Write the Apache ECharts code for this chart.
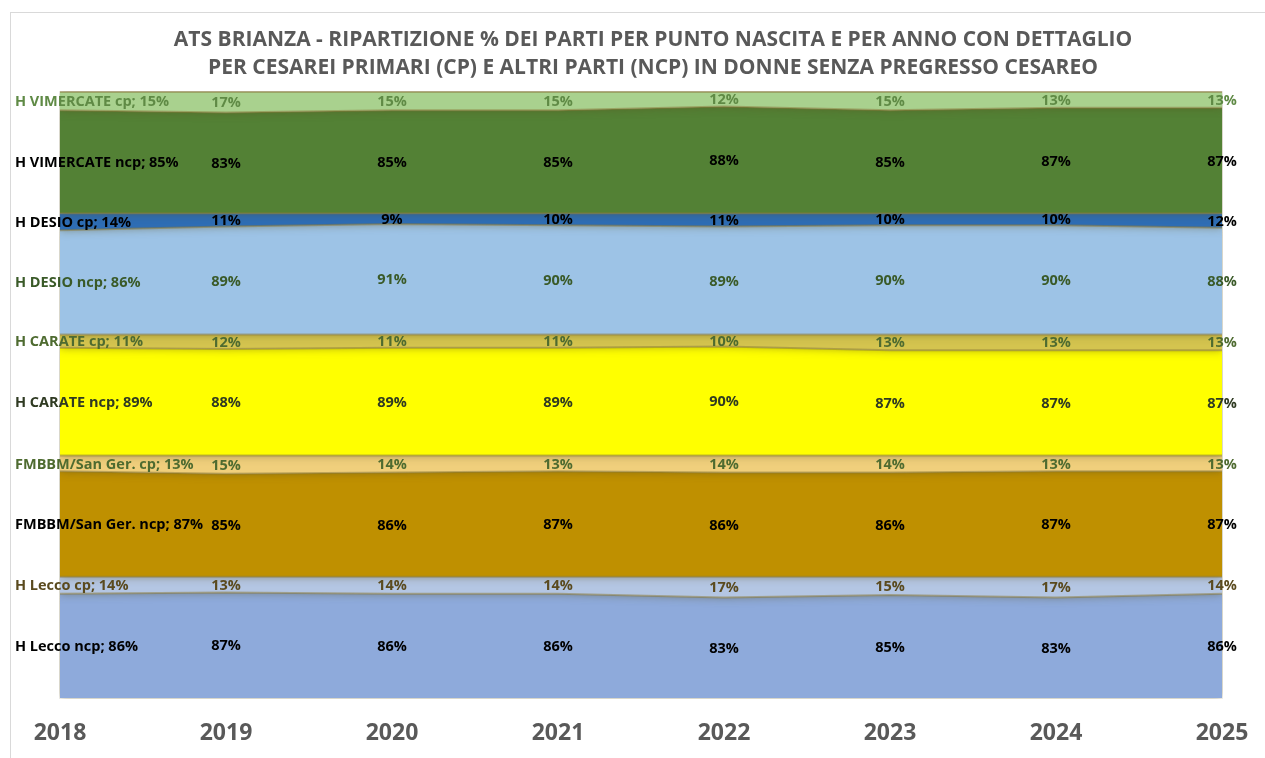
<!DOCTYPE html>
<html>
<head>
<meta charset="utf-8">
<script src="https://cdn.jsdelivr.net/npm/echarts@6/dist/echarts.min.js"></script>
<style>
html, body { margin: 0; padding: 0; background: #fff; }
#frame { position: absolute; left: 10px; top: 12px; width: 1265px; height: 760px; border-left: 1px solid #d9d9d9; border-top: 1px solid #d9d9d9; }
#chart { position: absolute; left: 0; top: 0; width: 1265px; height: 758px; }
</style>
</head>
<body>
<div id="frame"></div>
<div id="chart"></div>
<script>
// anni
var years = ['2018', '2019', '2020', '2021', '2022', '2023', '2024', '2025'];

// valori % per punto nascita (cp = cesarei primari, ncp = altri parti)
var leccoNcp = [86, 87, 86, 86, 83, 85, 83, 86];
var leccoCp = [14, 13, 14, 14, 17, 15, 17, 14];
var fmbbmNcp = [87, 85, 86, 87, 86, 86, 87, 87];
var fmbbmCp = [13, 15, 14, 13, 14, 14, 13, 13];
var carateNcp = [89, 88, 89, 89, 90, 87, 87, 87];
var carateCp = [11, 12, 11, 11, 10, 13, 13, 13];
var desioNcp = [86, 89, 91, 90, 89, 90, 90, 88];
var desioCp = [14, 11, 9, 10, 11, 10, 10, 12];
var vimercateNcp = [85, 83, 85, 85, 88, 85, 87, 87];
var vimercateCp = [15, 17, 15, 15, 12, 15, 13, 13];

// dal basso verso l'alto
var bands = [
    { name: 'H Lecco ncp', data: leccoNcp, color: '#8eaadb', label: '#000000' },
    { name: 'H Lecco cp', data: leccoCp, color: '#b4c6e3', label: '#5a4a1e' },
    { name: 'FMBBM/San Ger. ncp', data: fmbbmNcp, color: '#bf9000', label: '#000000' },
    { name: 'FMBBM/San Ger. cp', data: fmbbmCp, color: '#f0cf7c', label: '#4e6b30' },
    { name: 'H CARATE ncp', data: carateNcp, color: '#ffff00', label: '#2f3a22' },
    { name: 'H CARATE cp', data: carateCp, color: '#d4c44f', label: '#4e6b30' },
    { name: 'H DESIO ncp', data: desioNcp, color: '#9dc3e6', label: '#3a5a28' },
    { name: 'H DESIO cp', data: desioCp, color: '#2e6db4', label: '#000000' },
    { name: 'H VIMERCATE ncp', data: vimercateNcp, color: '#538135', label: '#000000' },
    { name: 'H VIMERCATE cp', data: vimercateCp, color: '#a9d18e', label: '#5f8a45' }
];

var series = [];
var labelData = [];
var base = years.map(function () { return 0; });

bands.forEach(function (b, si) {
    series.push({
        name: b.name,
        type: 'line',
        stack: 'tot',
        symbol: 'none',
        data: b.data,
        lineStyle: { color: '#8a7a3a', width: 2, opacity: 0.5 },
        areaStyle: {
            color: b.color,
            opacity: 1,
            shadowBlur: 8,
            shadowColor: 'rgba(90,80,30,0.5)'
        },
        z: 2
    });
    b.data.forEach(function (v, i) {
        labelData.push([i, base[i] + v / 2, v, si]);
        base[i] += v;
    });
});

// etichette al centro di ogni fascia
series.push({
    type: 'custom',
    data: labelData,
    z: 10,
    silent: true,
    renderItem: function (params, api) {
        var i = api.value(0);
        var p = api.coord([i, api.value(1)]);
        var v = api.value(2);
        var b = bands[api.value(3)];
        var first = i === 0;
        return {
            type: 'text',
            x: first ? p[0] - 45 : p[0],
            y: p[1] + 1,
            style: {
                text: first ? (b.name + '; ' + v + '%') : (v + '%'),
                fill: b.label,
                font: 'bold 14.5px "Open Sans", sans-serif',
                align: first ? 'left' : 'center',
                verticalAlign: 'middle'
            }
        };
    }
});

var chart = echarts.init(document.getElementById('chart'));
chart.setOption({
    backgroundColor: 'transparent',
    animation: false,
    title: {
        text: 'ATS BRIANZA - RIPARTIZIONE % DEI PARTI PER PUNTO NASCITA E PER ANNO CON DETTAGLIO\nPER CESAREI PRIMARI (CP) E ALTRI PARTI (NCP) IN DONNE SENZA PREGRESSO CESAREO',
        left: 648,
        top: 21,
        textAlign: 'center',
        textStyle: {
            fontFamily: '"Open Sans", sans-serif',
            fontSize: 21,
            fontWeight: 'bold',
            color: '#595959',
            lineHeight: 28
        }
    },
    grid: { left: 60, right: 43, top: 92, bottom: 60 },
    xAxis: {
        type: 'category',
        data: years,
        boundaryGap: false,
        axisLine: { show: false },
        axisTick: { show: false },
        axisLabel: {
            margin: 24,
            fontSize: 23,
            fontWeight: 'bold',
            color: '#595959',
            fontFamily: '"Open Sans", sans-serif'
        }
    },
    yAxis: {
        type: 'value',
        min: 0,
        max: 500,
        show: false
    },
    series: series
});
</script>
</body>
</html>
